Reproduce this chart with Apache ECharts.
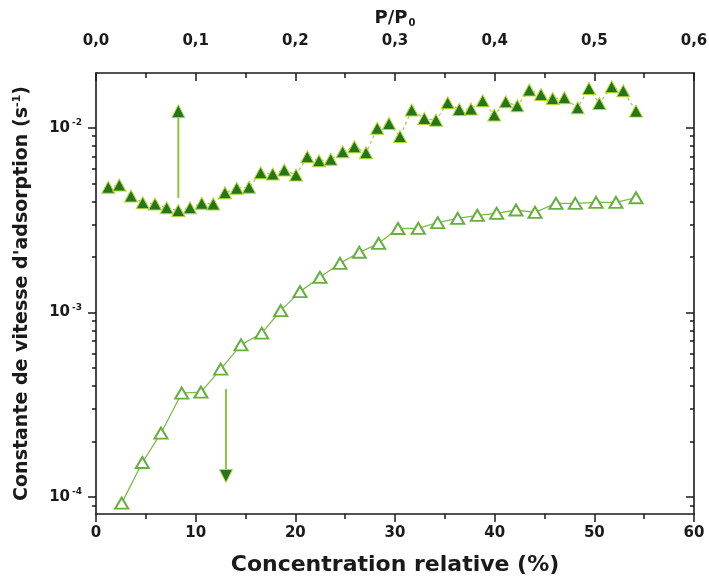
<!DOCTYPE html>
<html>
<head>
<meta charset="utf-8">
<script src="https://cdn.jsdelivr.net/npm/echarts@6/dist/echarts.min.js"></script>
<style>html,body{margin:0;padding:0;background:#fff}#c{width:709px;height:588px}</style>
</head>
<body>
<div id="c"></div>
<script>
// ---- data ----
const concFilled = [1.23,2.34,3.51,4.69,5.92,7.09,8.26,9.43,10.61,11.77,12.94,14.12,15.35,16.52,17.73,18.89,20.07,21.20,22.37,23.55,24.75,25.92,27.09,28.22,29.40,30.50,31.67,32.94,34.11,35.29,36.45,37.62,38.80,39.96,41.11,42.27,43.47,44.65,45.82,46.99,48.33,49.46,50.50,51.74,52.90,54.18];
const rateFilled = [4.76e-3,4.90e-3,4.27e-3,3.93e-3,3.87e-3,3.69e-3,3.56e-3,3.69e-3,3.90e-3,3.87e-3,4.45e-3,4.70e-3,4.76e-3,5.71e-3,5.62e-3,5.90e-3,5.55e-3,6.97e-3,6.63e-3,6.75e-3,7.42e-3,7.89e-3,7.32e-3,9.93e-3,1.056e-2,8.96e-3,1.247e-2,1.124e-2,1.100e-2,1.366e-2,1.258e-2,1.263e-2,1.400e-2,1.172e-2,1.382e-2,1.315e-2,1.600e-2,1.516e-2,1.442e-2,1.453e-2,1.283e-2,1.634e-2,1.355e-2,1.667e-2,1.586e-2,1.231e-2];
const concOpen = [2.58,4.65,6.52,8.60,10.53,12.51,14.55,16.63,18.53,20.47,22.47,24.48,26.42,28.36,30.30,32.34,34.28,36.29,38.26,40.20,42.14,44.05,46.15,48.09,50.17,52.17,54.18];
const rateOpen = [9.28e-5,1.539e-4,2.219e-4,3.654e-4,3.70e-4,4.93e-4,6.67e-4,7.72e-4,1.023e-3,1.296e-3,1.550e-3,1.845e-3,2.117e-3,2.368e-3,2.848e-3,2.855e-3,3.062e-3,3.234e-3,3.357e-3,3.442e-3,3.587e-3,3.485e-3,3.90e-3,3.90e-3,3.948e-3,3.948e-3,4.18e-3];
// arrows: [x, lineStart, lineEnd, headCentre]
const arrowUp = [8.26, 4.17e-3, 1.143e-2, 1.23e-2];
const arrowDown = [13.04, 3.85e-4, 1.406e-4, 1.30e-4];
// axes
const xMin = 0, xMax = 60, xStep = 10;
const topMin = 0, topMax = 0.6, topStep = 0.1;
const yMin = 8.1e-5, yMax = 1.98e-2;
const yMajor = [1e-4, 1e-3, 1e-2];
const yMinor = [];
[1e-5,1e-4,1e-3,1e-2].forEach(d => { for (let k = 2; k <= 9; k++) { const v = d * k; if (v >= yMin && v <= yMax) yMinor.push(v); } });

const FONT = 'DejaVu Sans, Liberation Sans, Arial, sans-serif';
const INK = '#1a1a1a';
const chart = echarts.init(document.getElementById('c'), null, {renderer: 'canvas'});

const lineAxis = {show: true, lineStyle: {color: INK, width: 1.6}};
function yAx(pos, minor, withLabels, inside) {
  return {
    type: 'log', logBase: 10, position: pos, min: yMin, max: yMax,
    axisLine: minor ? {show: false} : lineAxis,
    splitLine: {show: false},
    axisTick: {show: true, inside: inside, length: minor ? 4 : 8, customValues: minor ? yMinor : yMajor,
      lineStyle: {color: INK, width: 1.5}},
    axisLabel: withLabels ? {
      show: true, customValues: yMajor, margin: 14,
      formatter: v => '{b|10}{s|' + Math.round(Math.log10(v)) + '}',
      rich: {
        b: {fontFamily: FONT, fontWeight: 'bold', fontSize: 15, color: INK},
        s: {fontFamily: FONT, fontWeight: 'bold', fontSize: 9, color: INK, verticalAlign: 'top', padding: [0, 0, 10, 2]}
      }
    } : {show: false},
    name: withLabels ? "Constante de vitesse d'adsorption (s{s|-1})" : '',
    nameLocation: 'middle', nameGap: 63, nameRotate: 90,
    nameTextStyle: {fontFamily: FONT, fontWeight: 'bold', fontSize: 19, color: INK,
      rich: {s: {fontFamily: FONT, fontWeight: 'bold', fontSize: 11, color: INK, verticalAlign: 'top', padding: [0, 0, 10, 0]}}}
  };
}

const filledStyle = {color: '#23761a', borderColor: '#b9d53a', borderWidth: 1, opacity: 1};

chart.setOption({
  animation: false,
  backgroundColor: '#fff',
  grid: {left: 96, right: 15, top: 73, bottom: 74, containLabel: false, outerBoundsMode: 'none'},
  xAxis: [
    {
      type: 'value', position: 'bottom', min: xMin, max: xMax, interval: xStep,
      axisLine: lineAxis, splitLine: {show: false},
      axisTick: {show: true, inside: false, length: 8, lineStyle: {color: INK, width: 1.5}},
      minorTick: {show: true, splitNumber: 2, length: 5, lineStyle: {color: INK, width: 1.5}},
      axisLabel: {margin: 12, fontFamily: FONT, fontWeight: 'bold', fontSize: 15, color: INK},
      name: 'Concentration relative (%)', nameLocation: 'middle', nameGap: 40,
      nameTextStyle: {fontFamily: FONT, fontWeight: 'bold', fontSize: 22, color: INK}
    },
    {
      type: 'value', position: 'top', min: topMin, max: topMax, interval: topStep,
      axisLine: lineAxis, splitLine: {show: false},
      axisTick: {show: true, inside: true, length: 8, lineStyle: {color: INK, width: 1.5}},
      minorTick: {show: true, splitNumber: 2, length: 5, lineStyle: {color: INK, width: 1.5}},
      axisLabel: {margin: 24, fontFamily: FONT, fontWeight: 'bold', fontSize: 15, color: INK,
        formatter: v => v.toFixed(1).replace('.', ',')},
      name: 'P/P{sub|0}', nameLocation: 'middle', nameGap: 45,
      nameTextStyle: {fontFamily: FONT, fontWeight: 'bold', fontSize: 18, color: INK,
        rich: {sub: {fontFamily: FONT, fontWeight: 'bold', fontSize: 10, color: INK, verticalAlign: 'bottom', padding: [10, 0, 0, 1]}}}
    }
  ],
  yAxis: [yAx('left', false, true, false), yAx('left', true, false, false), yAx('right', false, false, true), yAx('right', true, false, true)],
  series: [
    {
      type: 'line', name: 'filled', xAxisIndex: 0, yAxisIndex: 0,
      data: concFilled.map((c, i) => [c, rateFilled[i]]),
      symbol: 'triangle', symbolSize: [13, 12],
      lineStyle: {color: '#9ccc50', width: 1.2, type: [3, 3]},
      itemStyle: filledStyle, z: 3
    },
    {
      type: 'line', name: 'open', xAxisIndex: 0, yAxisIndex: 0,
      data: concOpen.map((c, i) => [c, rateOpen[i]]),
      symbol: 'triangle', symbolSize: [13, 11],
      lineStyle: {color: '#7dbb48', width: 1.3},
      itemStyle: {color: '#fff', borderColor: '#66b040', borderWidth: 2}, z: 3
    },
    {
      type: 'line', xAxisIndex: 0, yAxisIndex: 0, symbol: 'none',
      data: [[arrowUp[0], arrowUp[1]], [arrowUp[0], arrowUp[2]]],
      lineStyle: {color: '#8cc63f', width: 2}, z: 2
    },
    {
      type: 'line', xAxisIndex: 0, yAxisIndex: 0, symbol: 'none',
      data: [[arrowDown[0], arrowDown[1]], [arrowDown[0], arrowDown[2]]],
      lineStyle: {color: '#8cc63f', width: 2}, z: 2
    },
    {
      type: 'scatter', xAxisIndex: 0, yAxisIndex: 0,
      data: [[arrowUp[0], arrowUp[3]]], symbol: 'triangle', symbolSize: [13, 13],
      itemStyle: filledStyle, z: 4
    },
    {
      type: 'scatter', xAxisIndex: 0, yAxisIndex: 0,
      data: [[arrowDown[0], arrowDown[3]]], symbol: 'triangle', symbolSize: [13, 13], symbolRotate: 180,
      itemStyle: filledStyle, z: 4
    }
  ]
});
</script>
</body>
</html>
